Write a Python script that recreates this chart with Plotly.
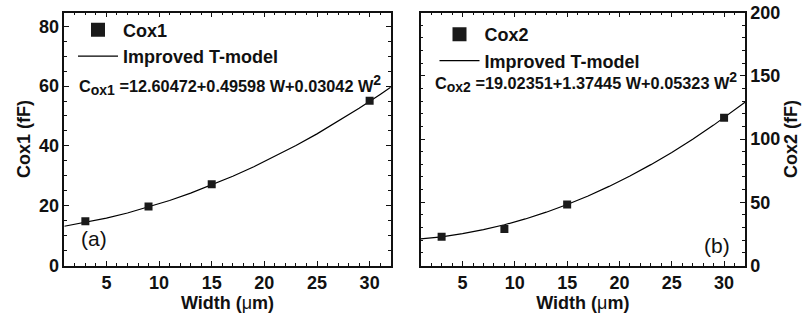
import plotly.graph_objects as go

# Measured capacitances vs. device width
width_um = [3, 9, 15, 30]
cox1_fF = [14.8, 19.7, 27.2, 55.1]
cox2_fF = [22.7, 28.8, 48.2, 116.8]

# Improved T-model curves sampled along the width axis
fit_w = [1, 3, 5, 7, 9, 11, 13, 15, 17, 19, 21, 23, 25, 27, 29, 31, 32]
fit_cox1 = [13.13, 14.37, 15.85, 17.57, 19.53, 21.74, 24.19, 26.89, 29.83,
            33.01, 36.44, 40.11, 44.02, 48.17, 52.57, 57.21, 59.63]
fit_cox2 = [20.98, 22.70, 25.13, 28.30, 32.18, 36.80, 42.14, 48.20, 54.99,
            62.51, 70.75, 79.72, 89.41, 99.83, 110.98, 122.85, 129.05]

x_ticks = [5, 10, 15, 20, 25, 30]
y1_ticks = [0, 20, 40, 60, 80]
y2_ticks = [0, 50, 100, 150, 200]

SUB = "<sub><span style='font-size:14px'>%s</span></sub>"
SUP = "<sup><span style='font-size:14px'>%s</span></sup>"
eq1 = "C" + SUB % "ox1" + " =12.60472+0.49598 W+0.03042 W" + SUP % "2"
eq2 = "C" + SUB % "ox2" + " =19.02351+1.37445 W+0.05323 W" + SUP % "2"

FONT = "Liberation Sans"
W, H = 803, 324


def px_x(p):
    return p / W


def px_y(p):
    return 1 - p / H


fig = go.Figure()

# panel (a)
fig.add_trace(go.Scatter(x=fit_w, y=fit_cox1, mode="lines", name="Improved T-model",
                         line=dict(color="black", width=1.2), xaxis="x", yaxis="y",
                         legend="legend", legendrank=2))
fig.add_trace(go.Scatter(x=width_um, y=cox1_fF, mode="markers", name="Cox1",
                         marker=dict(symbol="square", size=8, color="#1a1a1a"),
                         xaxis="x", yaxis="y", showlegend=False))
fig.add_trace(go.Scatter(x=[None], y=[None], mode="markers", name="Cox1",
                         marker=dict(symbol="square", size=14, color="#1a1a1a"),
                         xaxis="x", yaxis="y", legend="legend", legendrank=1))

# panel (b)
fig.add_trace(go.Scatter(x=fit_w, y=fit_cox2, mode="lines", name="Improved T-model",
                         line=dict(color="black", width=1.2), xaxis="x2", yaxis="y2",
                         legend="legend2", legendrank=2))
fig.add_trace(go.Scatter(x=width_um, y=cox2_fF, mode="markers", name="Cox2",
                         marker=dict(symbol="square", size=8, color="#1a1a1a"),
                         xaxis="x2", yaxis="y2", showlegend=False))
fig.add_trace(go.Scatter(x=[None], y=[None], mode="markers", name="Cox2",
                         marker=dict(symbol="square", size=14, color="#1a1a1a"),
                         xaxis="x2", yaxis="y2", legend="legend2", legendrank=1))

tick_font = dict(family=FONT, size=18, color="#111", weight="bold")
title_font = dict(family=FONT, size=18, color="#111", weight="bold")

common_x = dict(range=[1, 32], tickvals=x_ticks, ticks="inside", ticklen=5, tickwidth=1.2,
                tickcolor="#111", showline=True, linecolor="#111", linewidth=1.5,
                mirror="allticks", showgrid=False, zeroline=False, tickfont=tick_font,
                automargin=False,
                minor=dict(dtick=1, tick0=0, ticks="inside", ticklen=3, tickwidth=1,
                           tickcolor="#111", showgrid=False),
                title=dict(text="Width (<span style='font-weight:normal'>μ</span>m)",
                           font=title_font, standoff=5))

common_y = dict(ticks="inside", ticklen=5, tickwidth=1.2, tickcolor="#111",
                showline=True, linecolor="#111", linewidth=1.5, mirror="allticks",
                showgrid=False, zeroline=False, tickfont=tick_font, automargin=False)

y_dom = [px_y(265.5), px_y(12.5)]

legend_font = dict(family=FONT, size=18, color="#111", weight="bold")

fig.update_layout(
    width=W, height=H,
    margin=dict(l=0, r=0, t=0, b=0, autoexpand=False),
    paper_bgcolor="white", plot_bgcolor="white",
    xaxis=dict(domain=[px_x(64.3), px_x(390.7)], anchor="y", **common_x),
    xaxis2=dict(domain=[px_x(420.7), px_x(745)], anchor="y2", **common_x),
    yaxis=dict(domain=y_dom, anchor="x", range=[0, 84.6], tickvals=y1_ticks,
               minor=dict(dtick=5, tick0=0, ticks="inside", ticklen=3, tickwidth=1,
                          tickcolor="#111", showgrid=False),
               title=dict(text="Cox1 (fF)", font=title_font, standoff=4), **common_y),
    yaxis2=dict(domain=y_dom, anchor="x2", side="right", range=[0, 200], tickvals=y2_ticks,
                minor=dict(dtick=10, tick0=0, ticks="inside", ticklen=3, tickwidth=1,
                           tickcolor="#111", showgrid=False),
                title=dict(text="Cox2 (fF)", font=title_font, standoff=5), **common_y),
    legend=dict(x=px_x(73), y=px_y(11.5), xanchor="left", yanchor="top",
                bgcolor="rgba(0,0,0,0)", borderwidth=0, itemwidth=40,
                tracegroupgap=0, traceorder="normal", font=legend_font),
    legend2=dict(x=px_x(434.5), y=px_y(16), xanchor="left", yanchor="top",
                 bgcolor="rgba(0,0,0,0)", borderwidth=0, itemwidth=40,
                 tracegroupgap=0, traceorder="normal", font=legend_font),
    annotations=[
        dict(text=eq1, xref="paper", yref="paper", x=px_x(76.7), y=px_y(85),
             xanchor="left", yanchor="middle", showarrow=False,
             font=dict(family=FONT, size=16.3, color="#111", weight="bold")),
        dict(text=eq2, xref="paper", yref="paper", x=px_x(432.7), y=px_y(81.5),
             xanchor="left", yanchor="middle", showarrow=False,
             font=dict(family=FONT, size=16.3, color="#111", weight="bold")),
        dict(text="(a)", xref="paper", yref="paper", x=px_x(79), y=px_y(239),
             xanchor="left", yanchor="middle", showarrow=False,
             font=dict(family=FONT, size=21, color="#111")),
        dict(text="(b)", xref="paper", yref="paper", x=px_x(732), y=px_y(245),
             xanchor="right", yanchor="middle", showarrow=False,
             font=dict(family=FONT, size=21, color="#111")),
    ],
)

fig.write_html("out.html")
